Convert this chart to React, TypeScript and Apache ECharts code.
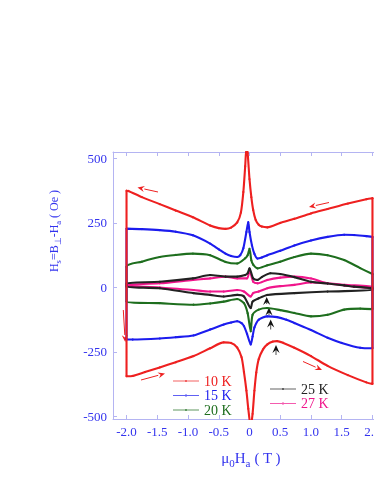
import React, { useEffect, useRef } from "react";
import * as echarts from "echarts";

const xTicks = [-2, -1.5, -1, -0.5, 0, 0.5, 1, 1.5, 2];
const yTicks = [-500, -250, 0, 250, 500];

const names = ["10 K", "15 K", "20 K", "25 K", "27 K"];
const colors = ["#ee2020", "#1c1cee", "#1e6e1e", "#222222", "#f0168c"];

// field sweep 2 -> -2 (upper branch)
const t10Down = [[2.0, 346], [1.9, 342], [1.6, 325], [1.27, 304], [1.0, 287], [0.73, 266], [0.5, 250], [0.29, 233], [0.2, 236], [0.15, 243], [0.1, 262], [0.06, 300], [0.03, 350], [0.0, 420], [-0.03, 520], [-0.05, 540], [-0.07, 470], [-0.1, 370], [-0.14, 290], [-0.2, 252], [-0.3, 232], [-0.39, 227], [-0.5, 230], [-0.64, 240], [-0.92, 272], [-1.2, 298], [-1.46, 323], [-1.75, 350], [-1.97, 374], [-2.0, 375]];
// field sweep -2 -> 2 (lower branch)
const t10Up = [[-2.0, -344], [-1.9, -343], [-1.7, -328], [-1.46, -310], [-1.2, -290], [-0.91, -266], [-0.64, -236], [-0.42, -213], [-0.3, -215], [-0.2, -233], [-0.13, -270], [-0.09, -328], [-0.05, -400], [-0.02, -470], [0.02, -540], [0.05, -490], [0.08, -400], [0.11, -330], [0.15, -278], [0.22, -240], [0.29, -221], [0.38, -210], [0.45, -208], [0.55, -215], [0.73, -234], [1.0, -266], [1.27, -304], [1.6, -340], [1.9, -368], [2.0, -374]];

const t15Down = [[2.0, 196], [1.9, 199], [1.7, 203], [1.54, 204], [1.27, 196], [1.0, 182], [0.73, 163], [0.5, 142], [0.29, 125], [0.2, 116], [0.13, 112], [0.08, 130], [0.04, 163], [0.0, 215], [-0.02, 253], [-0.05, 215], [-0.1, 152], [-0.15, 125], [-0.2, 118], [-0.3, 122], [-0.39, 131], [-0.5, 148], [-0.64, 170], [-0.92, 202], [-1.2, 216], [-1.46, 222], [-1.75, 226], [-2.0, 228]];
const t15Up = [[-2.0, -202], [-1.9, -202], [-1.46, -198], [-1.2, -193], [-0.91, -186], [-0.64, -163], [-0.42, -144], [-0.3, -136], [-0.2, -131], [-0.13, -138], [-0.09, -150], [-0.04, -180], [0.02, -221], [0.05, -190], [0.08, -155], [0.15, -125], [0.29, -112], [0.45, -115], [0.6, -125], [0.73, -138], [1.0, -165], [1.27, -195], [1.5, -215], [1.8, -234], [2.0, -236]];

const t20Down = [[2.0, 52], [1.8, 75], [1.54, 106], [1.27, 125], [1.0, 131], [0.73, 118], [0.5, 100], [0.29, 86], [0.13, 74], [0.06, 88], [0.03, 105], [0.0, 150], [-0.03, 125], [-0.07, 113], [-0.2, 93], [-0.39, 99], [-0.64, 125], [-0.92, 131], [-1.2, 126], [-1.46, 118], [-1.75, 100], [-2.0, 80]];
const t20Up = [[-2.0, -55], [-1.46, -61], [-0.91, -67], [-0.64, -62], [-0.42, -55], [-0.2, -45], [-0.09, -61], [-0.03, -100], [0.02, -170], [0.05, -106], [0.15, -86], [0.29, -80], [0.5, -88], [0.73, -99], [1.0, -112], [1.27, -106], [1.54, -86], [1.8, -82], [2.0, -84]];

const t25Down = [[2.0, -3], [1.7, 3], [1.54, 8], [1.27, 15], [1.0, 22], [0.73, 40], [0.5, 52], [0.34, 55], [0.2, 40], [0.13, 29], [0.06, 35], [0.0, 74], [-0.03, 55], [-0.07, 48], [-0.2, 42], [-0.39, 42], [-0.64, 48], [-0.92, 35], [-1.46, 22], [-2.0, 16]];
const t25Up = [[-2.0, 3], [-1.46, -3], [-0.91, -22], [-0.64, -29], [-0.42, -35], [-0.2, -29], [-0.09, -35], [0.02, -80], [0.05, -55], [0.15, -42], [0.29, -29], [0.73, -22], [1.27, -16], [2.0, -10]];

const t27Down = [[2.0, -3], [1.7, 3], [1.54, 8], [1.27, 16], [1.0, 35], [0.73, 42], [0.5, 38], [0.29, 29], [0.13, 16], [0.06, 22], [0.0, 67], [-0.04, 35], [-0.2, 35], [-0.39, 42], [-0.64, 35], [-0.92, 29], [-1.46, 16], [-2.0, 10]];
const t27Up = [[-2.0, 6], [-1.46, 0], [-0.91, -10], [-0.64, -16], [-0.42, -16], [-0.2, -10], [-0.09, -16], [0.02, -35], [0.06, -22], [0.15, -16], [0.29, -3], [0.5, 5], [0.73, 10], [1.0, 19], [1.27, 16], [1.54, 10], [2.0, 3]];

const loops = [
  [t10Down, t10Up],
  [t15Down, t15Up],
  [t20Down, t20Up],
  [t25Down, t25Up],
  [t27Down, t27Up],
];

const FONT = "'Liberation Serif', 'Times New Roman', serif";
const BLUE = "#3434ee";
const AXIS = "#b4b4f2";

function arrow(x1: number, y1: number, x2: number, y2: number, color: string) {
  const a = Math.atan2(y2 - y1, x2 - x1);
  const L = 7, W = 3;
  const bx = x2 - L * Math.cos(a), by = y2 - L * Math.sin(a);
  const px = -Math.sin(a) * W, py = Math.cos(a) * W;
  return {
    type: "group",
    children: [
      { type: "line", shape: { x1, y1, x2: bx, y2: by }, style: { stroke: color, lineWidth: 1 } },
      { type: "polygon", shape: { points: [[x2, y2], [bx + px, by + py], [bx + 0.35 * L * Math.cos(a), by + 0.35 * L * Math.sin(a)], [bx - px, by - py]] }, style: { fill: color } },
    ],
  };
}

function chevron(x: number, y: number, tail: number) {
  return {
    type: "group",
    children: [
      { type: "line", shape: { x1: x, y1: y + 3, x2: x, y2: y + tail }, style: { stroke: "#222", lineWidth: 0.8 } },
      { type: "polygon", shape: { points: [[x, y], [x + 3.6, y + 8], [x, y + 5], [x - 3.6, y + 8]] }, style: { fill: "#111" } },
    ],
  };
}

export default function App() {
  const ref = useRef<HTMLDivElement>(null);
  useEffect(() => {
    if (!ref.current) return;
    const chart = echarts.init(ref.current, undefined, { renderer: "svg" });
    const series = loops.map(([down, up], i) => ({
      name: names[i],
      type: "line",
      data: [...down, ...up, down[0]],
      symbol: "circle",
      symbolSize: 2.2,
      showSymbol: true,
      showAllSymbol: true,
      smooth: 0.25,
      clip: true,
      lineStyle: { width: 2.1, color: colors[i] },
      itemStyle: { color: colors[i] },
      z: 10 - i,
    }));
    const legendIcon = "path://M0,1h12v0.8h-12z M12,0.4h2v2h-2z M14,1h12v0.8h-12z";
    const legendBase = {
      orient: "vertical",
      icon: legendIcon,
      itemWidth: 26,
      itemHeight: 2.4,
      itemGap: 0.5,
      padding: 0,
      selectedMode: false,
      itemStyle: { opacity: 0.7 },
      textStyle: { fontFamily: FONT, fontSize: 14, lineHeight: 13 },
    };
    const xAxisBase = {
      type: "value",
      min: -2.22,
      max: 2.22,
      splitLine: { show: false },
      axisLine: { show: true, onZero: false, lineStyle: { color: AXIS, width: 1 } },
      axisTick: { show: true, inside: true, length: 4, customValues: xTicks, lineStyle: { color: AXIS } },
    };
    const option: any = {
      animation: false,
      textStyle: { fontFamily: FONT },
      grid: { left: 113, top: 152, width: 273, height: 267, containLabel: false },
      xAxis: [
        {
          ...xAxisBase,
          position: "bottom",
          axisLabel: {
            customValues: xTicks,
            color: BLUE,
            fontFamily: FONT,
            fontSize: 13,
            margin: 6,
            formatter: (v: number) => (v === 0 ? "0" : v.toFixed(1)),
          },
        },
        {
          ...xAxisBase,
          position: "top",
          axisLabel: { show: false },
        },
      ],
      yAxis: [
        {
          type: "value",
          min: -510,
          max: 525,
          position: "left",
          axisLine: { show: true, onZero: false, lineStyle: { color: AXIS, width: 1 } },
          axisTick: { show: true, inside: true, length: 4, customValues: yTicks, lineStyle: { color: AXIS } },
          axisLabel: { customValues: yTicks, color: BLUE, fontFamily: FONT, fontSize: 13, margin: 6 },
          splitLine: { show: false },
        },
      ],
      legend: [
        {
          ...legendBase,
          left: 173,
          top: 374,
          data: names.slice(0, 3).map((n, i) => ({ name: n, textStyle: { color: colors[i] } })),
        },
        {
          ...legendBase,
          left: 270,
          top: 382,
          data: names.slice(3).map((n, i) => ({ name: n, textStyle: { color: colors[i + 3] } })),
        },
      ],
      series,
      graphic: [
        {
          type: "text",
          x: 251,
          y: 458,
          style: {
            text: "{m|μ}{s|0}{m|H}{s|a}{m| ( T )}",
            align: "center",
            verticalAlign: "middle",
            fill: BLUE,
            rich: {
              m: { fontFamily: FONT, fontSize: 15, lineHeight: 20, fill: BLUE, verticalAlign: "middle" },
              s: { fontFamily: FONT, fontSize: 11, lineHeight: 10, fill: BLUE, verticalAlign: "bottom" },
            },
          },
        },
        {
          type: "text",
          x: 54,
          y: 231,
          rotation: Math.PI / 2,
          style: {
            text: "{m|H}{s|s}{m|=B}{s|⊥}{m|-H}{s|a}{m| ( Oe )}",
            align: "center",
            verticalAlign: "middle",
            fill: BLUE,
            rich: {
              m: { fontFamily: FONT, fontSize: 12, lineHeight: 17, fill: BLUE, verticalAlign: "middle" },
              s: { fontFamily: FONT, fontSize: 8.5, lineHeight: 8, fill: BLUE, verticalAlign: "bottom" },
            },
          },
        },
        arrow(158, 192, 137.5, 187.5, "#ee2020"),
        arrow(329, 202.5, 309, 207, "#ee2020"),
        arrow(123.3, 310, 125.2, 342, "#ee2020"),
        arrow(141, 380, 165, 373.5, "#ee2020"),
        arrow(303, 361.5, 322, 370, "#ee2020"),
        chevron(266.7, 297, 7),
        chevron(269, 307.5, 8),
        chevron(270.7, 319.5, 10),
        chevron(276, 345, 10),
      ],
    };
    chart.setOption(option);
    return () => chart.dispose();
  }, []);
  return <div ref={ref} style={{ position: "fixed", left: 0, top: 0, width: 390, height: 484 }} />;
}
